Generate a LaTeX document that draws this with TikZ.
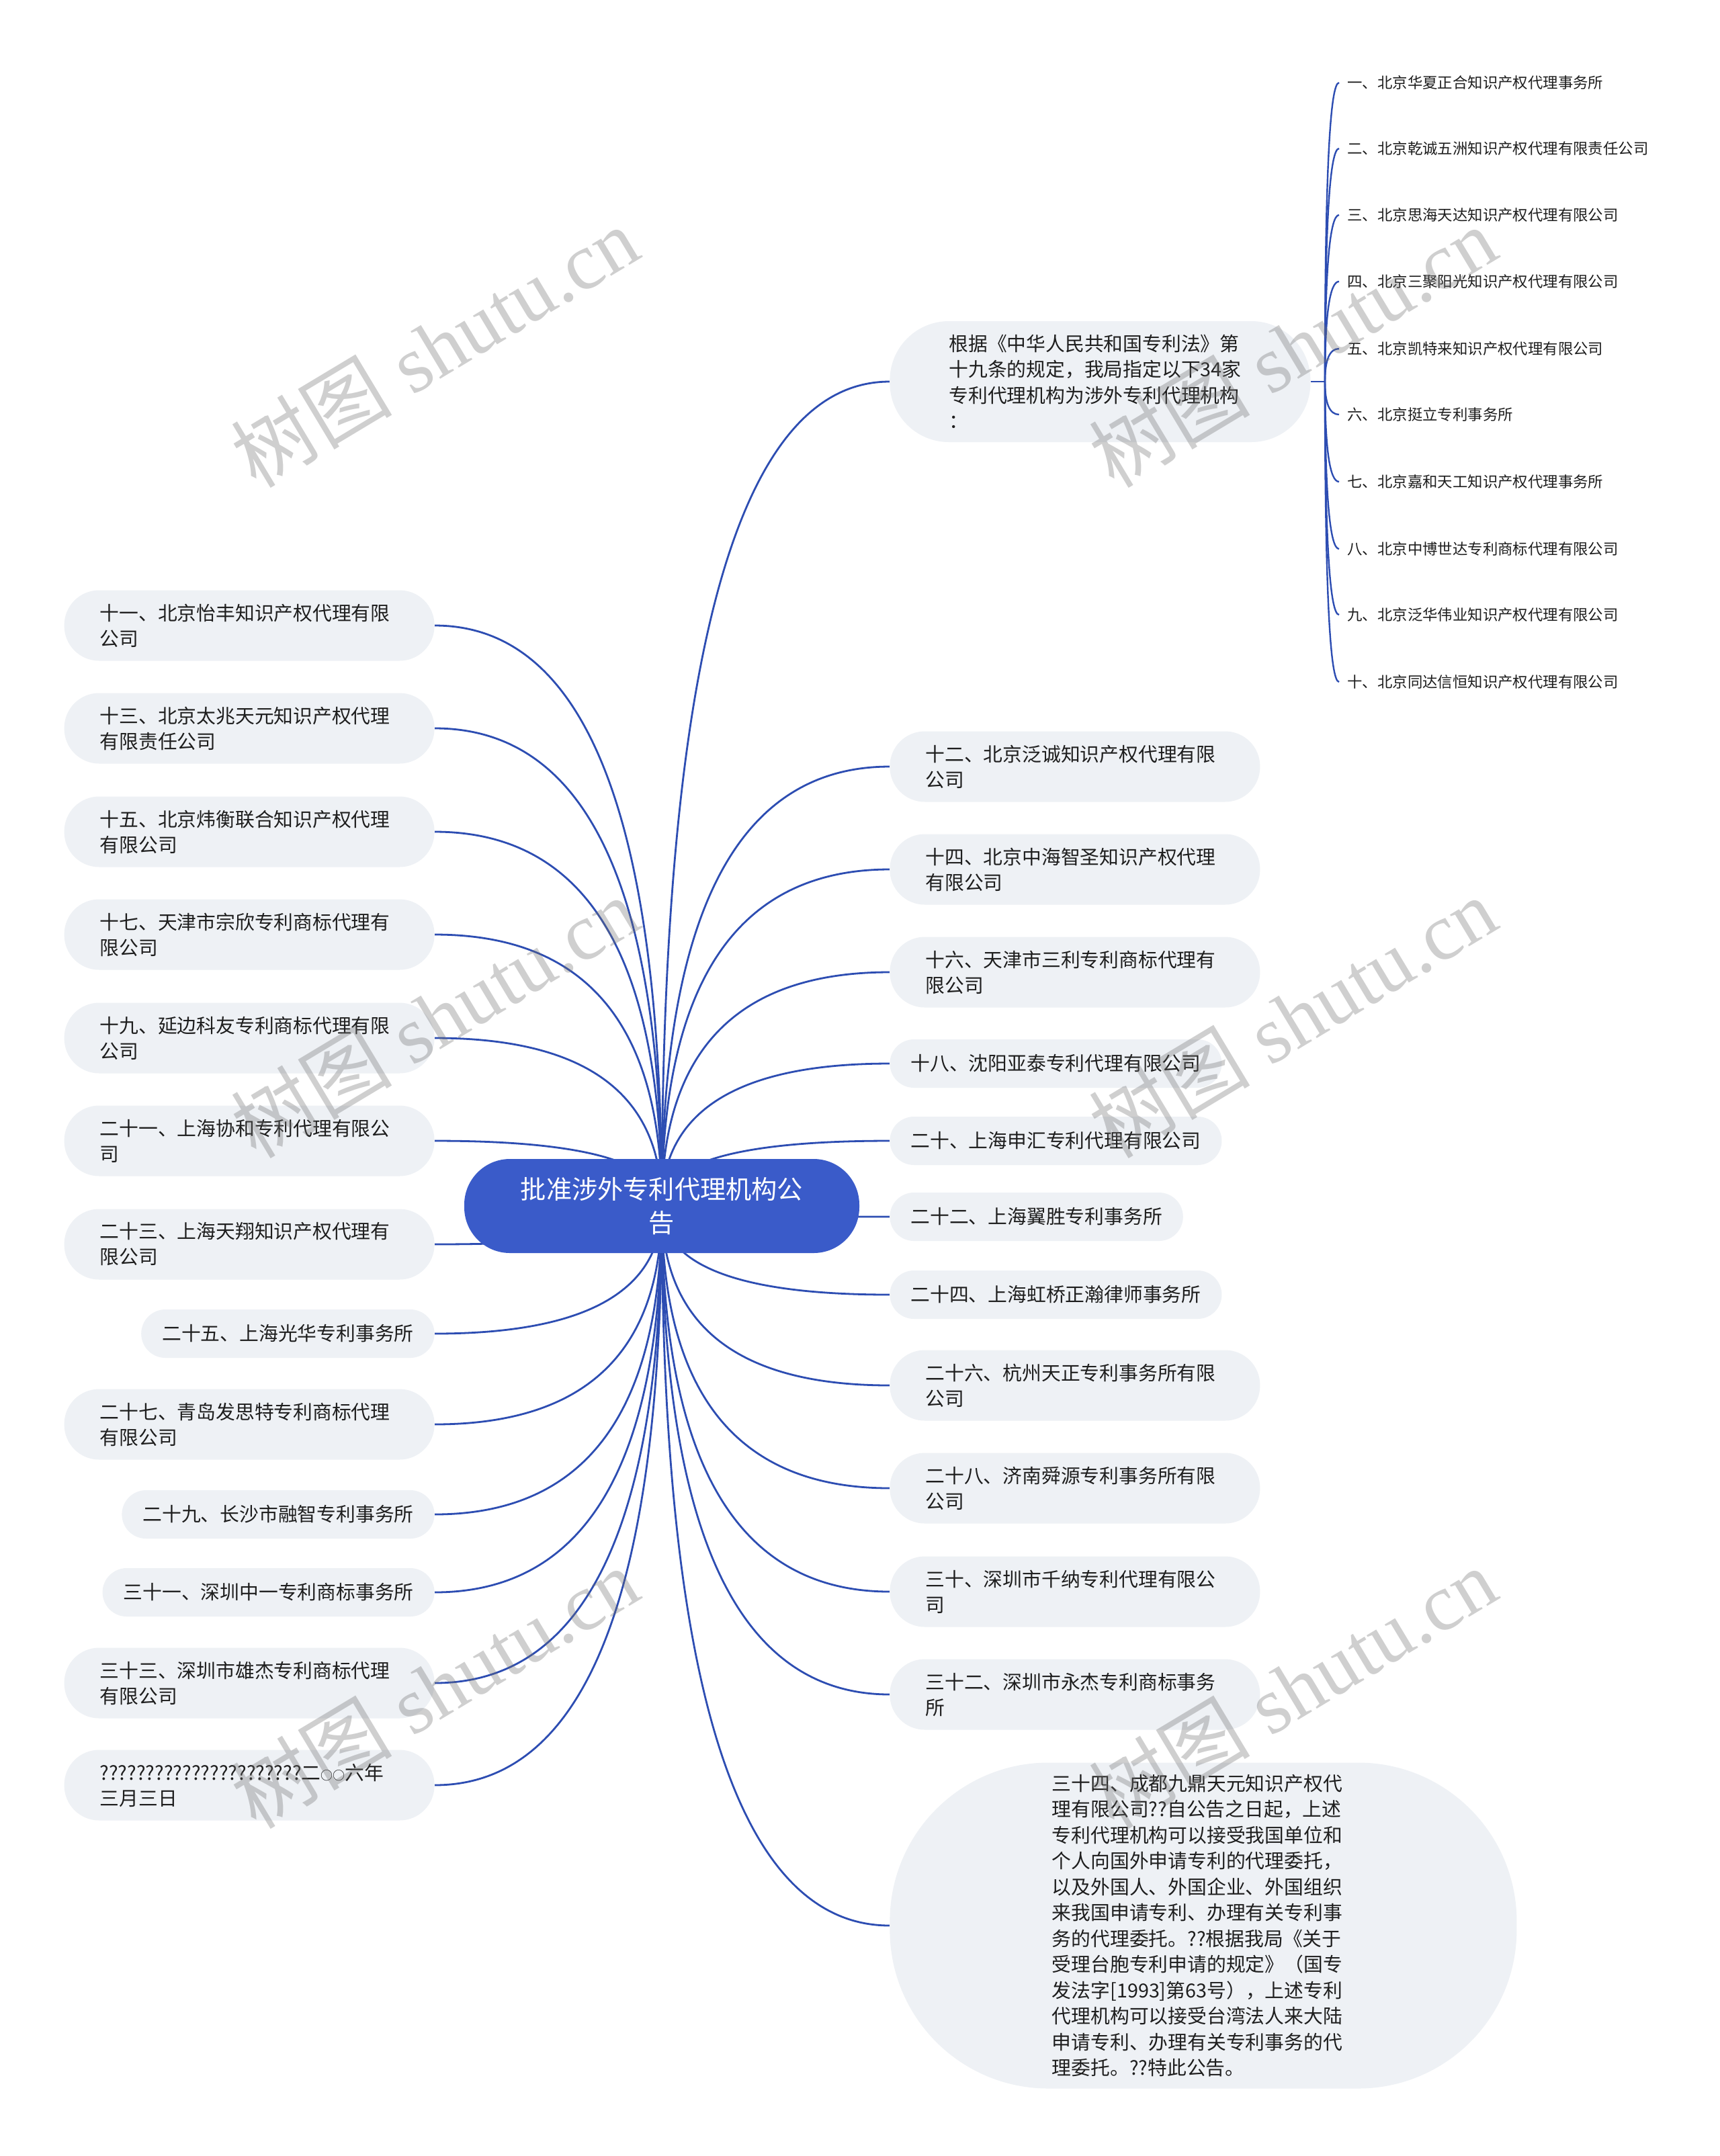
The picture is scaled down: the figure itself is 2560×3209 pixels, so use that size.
\documentclass[tikz,border=0pt]{standalone}
\usepackage{fontspec}
\setmainfont{Noto Sans CJK SC}
\newfontfamily\cjkfont{Noto Sans CJK SC}
\newfontfamily\wmserif{Liberation Serif}
\usetikzlibrary{calc,backgrounds}
\definecolor{hubblue}{RGB}{58,91,201}
\definecolor{linkblue}{RGB}{45,77,178}
\definecolor{pillgray}{RGB}{238,241,245}
\definecolor{txt}{RGB}{30,30,30}
\definecolor{wmgray}{RGB}{110,110,110}
\newcommand\fsnode{\fontsize{14.4pt}{19pt}\selectfont}
\newcommand\fssub{\fontsize{11.2pt}{14pt}\selectfont}
\newcommand\fshub{\fontsize{19.1pt}{25pt}\selectfont}
\newcommand\fsbig{\fontsize{14.4pt}{19.25pt}\selectfont}
\newcommand\hubconn[1]{\draw[link] (hub.center) .. controls ($(hub.center)!0.6667!(hub.center |- #1)$) and ($(#1)!0.6667!(hub.center |- #1)$) .. (#1);}
\newcommand\subconn[1]{\draw[sublink] (J) .. controls ($(J)!0.6667!(J |- #1)$) and ($(#1)!0.6667!(J |- #1)$) .. (#1);}
\begin{document}
\begin{tikzpicture}[x=0.5pt,y=-0.5pt,
  pill/.style={fill=pillgray, text=txt, font=\fsnode, inner ysep=0pt, align=left},
  two/.style={pill, rounded corners=26pt, minimum height=52.5pt, inner xsep=26.5pt, text width=222.5pt},
  one/.style={pill, rounded corners=18pt, minimum height=36pt, inner xsep=15.5pt},
  sub/.style={text=txt, font=\fssub, inner xsep=6pt, inner ysep=2pt, anchor=west},
  link/.style={draw=linkblue, line width=1.4pt},
  sublink/.style={draw=linkblue, line width=1.2pt},
  wm/.style={font=\fontsize{60pt}{60pt}\selectfont\wmserif, text=wmgray, opacity=0.33, rotate=31}
]
\useasboundingbox (0,0) rectangle (2560,3209);

% central topic
\node[fill=hubblue, text=white, font=\fshub, rounded corners=34pt, minimum width=294pt,
      minimum height=70pt, align=center, inner sep=0pt] (hub) at (985,1795)
      {批准涉外专利代理机构公\\告};

% left branches
\node[two, anchor=east] (L11) at (647,931) {十一、北京怡丰知识产权代理有限\\公司};
\node[two, anchor=east] (L13) at (647,1084) {十三、北京太兆天元知识产权代理\\有限责任公司};
\node[two, anchor=east] (L15) at (647,1238) {十五、北京炜衡联合知识产权代理\\有限公司};
\node[two, anchor=east] (L17) at (647,1391) {十七、天津市宗欣专利商标代理有\\限公司};
\node[two, anchor=east] (L19) at (647,1545) {十九、延边科友专利商标代理有限\\公司};
\node[two, anchor=east] (L21) at (647,1698) {二十一、上海协和专利代理有限公\\司};
\node[two, anchor=east] (L23) at (647,1852) {二十三、上海天翔知识产权代理有\\限公司};
\node[one, anchor=east] (L25) at (647,1985) {二十五、上海光华专利事务所};
\node[two, anchor=east] (L27) at (647,2120) {二十七、青岛发思特专利商标代理\\有限公司};
\node[one, anchor=east] (L29) at (647,2254) {二十九、长沙市融智专利事务所};
\node[one, anchor=east] (L31) at (647,2370) {三十一、深圳中一专利商标事务所};
\node[two, anchor=east] (L33) at (647,2505) {三十三、深圳市雄杰专利商标代理\\有限公司};
\node[two, anchor=east] (L35) at (647,2657) {??????????????????????二{\fontsize{9pt}{9pt}\selectfont ○○}六年\\三月三日};

% right branches
\node[pill, anchor=west, rounded corners=44pt, minimum height=90pt, inner xsep=44pt, text width=225pt, font=\fontsize{14.4pt}{19.25pt}\selectfont] (R0) at (1324,568)
  {根据《中华人民共和国专利法》第\\十九条的规定，我局指定以下34家\\专利代理机构为涉外专利代理机构\\：};
\node[two, anchor=west] (R12) at (1324,1141) {十二、北京泛诚知识产权代理有限\\公司};
\node[two, anchor=west] (R14) at (1324,1294) {十四、北京中海智圣知识产权代理\\有限公司};
\node[two, anchor=west] (R16) at (1324,1447) {十六、天津市三利专利商标代理有\\限公司};
\node[one, anchor=west] (R18) at (1324,1583) {十八、沈阳亚泰专利代理有限公司};
\node[one, anchor=west] (R20) at (1324,1698) {二十、上海申汇专利代理有限公司};
\node[one, anchor=west] (R22) at (1324,1811) {二十二、上海翼胜专利事务所};
\node[one, anchor=west] (R24) at (1324,1927) {二十四、上海虹桥正瀚律师事务所};
\node[two, anchor=west] (R26) at (1324,2062) {二十六、杭州天正专利事务所有限\\公司};
\node[two, anchor=west] (R28) at (1324,2215) {二十八、济南舜源专利事务所有限\\公司};
\node[two, anchor=west] (R30) at (1324,2369) {三十、深圳市千纳专利代理有限公\\司};
\node[two, anchor=west] (R32) at (1324,2522) {三十二、深圳市永杰专利商标事务\\所};
\node[pill, anchor=west, rounded corners=118pt, minimum width=466.5pt, minimum height=242.5pt,
      inner sep=0pt, text width=225pt, font=\fsbig] (R34) at (1324,2866)
  {三十四、成都九鼎天元知识产权代\\理有限公司??自公告之日起，上述\\专利代理机构可以接受我国单位和\\个人向国外申请专利的代理委托，\\以及外国人、外国企业、外国组织\\来我国申请专利、办理有关专利事\\务的代理委托。??根据我局《关于\\受理台胞专利申请的规定》（国专\\发法字[1993]第63号），上述专利\\代理机构可以接受台湾法人来大陆\\申请专利、办理有关专利事务的代\\理委托。??特此公告。};

% sub items of R0
\coordinate (J) at (1972,568);
\node[sub] (s1) at (1993,123) {一、北京华夏正合知识产权代理事务所};
\node[sub] (s2) at (1993,221) {二、北京乾诚五洲知识产权代理有限责任公司};
\node[sub] (s3) at (1993,320) {三、北京思海天达知识产权代理有限公司};
\node[sub] (s4) at (1993,419) {四、北京三聚阳光知识产权代理有限公司};
\node[sub] (s5) at (1993,519) {五、北京凯特来知识产权代理有限公司};
\node[sub] (s6) at (1993,617) {六、北京挺立专利事务所};
\node[sub] (s7) at (1993,717) {七、北京嘉和天工知识产权代理事务所};
\node[sub] (s8) at (1993,817) {八、北京中博世达专利商标代理有限公司};
\node[sub] (s9) at (1993,915) {九、北京泛华伟业知识产权代理有限公司};
\node[sub] (s10) at (1993,1015) {十、北京同达信恒知识产权代理有限公司};

\begin{pgfonlayer}{background}
\fill[white] (0,0) rectangle (2560,3209);
\hubconn{L11.east}
\hubconn{L13.east}
\hubconn{L15.east}
\hubconn{L17.east}
\hubconn{L19.east}
\hubconn{L21.east}
\hubconn{L23.east}
\hubconn{L25.east}
\hubconn{L27.east}
\hubconn{L29.east}
\hubconn{L31.east}
\hubconn{L33.east}
\hubconn{L35.east}
\hubconn{R0.west}
\hubconn{R12.west}
\hubconn{R14.west}
\hubconn{R16.west}
\hubconn{R18.west}
\hubconn{R20.west}
\hubconn{R22.west}
\hubconn{R24.west}
\hubconn{R26.west}
\hubconn{R28.west}
\hubconn{R30.west}
\hubconn{R32.west}
\hubconn{R34.west}
\draw[sublink] (R0.east) -- (J);
\subconn{s1.west}
\subconn{s2.west}
\subconn{s3.west}
\subconn{s4.west}
\subconn{s5.west}
\subconn{s6.west}
\subconn{s7.west}
\subconn{s8.west}
\subconn{s9.west}
\subconn{s10.west}
\end{pgfonlayer}

% watermarks
\node[wm] (w1) at (647,516) {{\cjkfont 树图} shutu.cn};
\node[wm] (w2) at (1924,516) {{\cjkfont 树图} shutu.cn};
\node[wm] (w3) at (647,1514) {{\cjkfont 树图} shutu.cn};
\node[wm] (w4) at (1924,1514) {{\cjkfont 树图} shutu.cn};
\node[wm] (w5) at (647,2512) {{\cjkfont 树图} shutu.cn};
\node[wm] (w6) at (1924,2512) {{\cjkfont 树图} shutu.cn};
\end{tikzpicture}
\end{document}
